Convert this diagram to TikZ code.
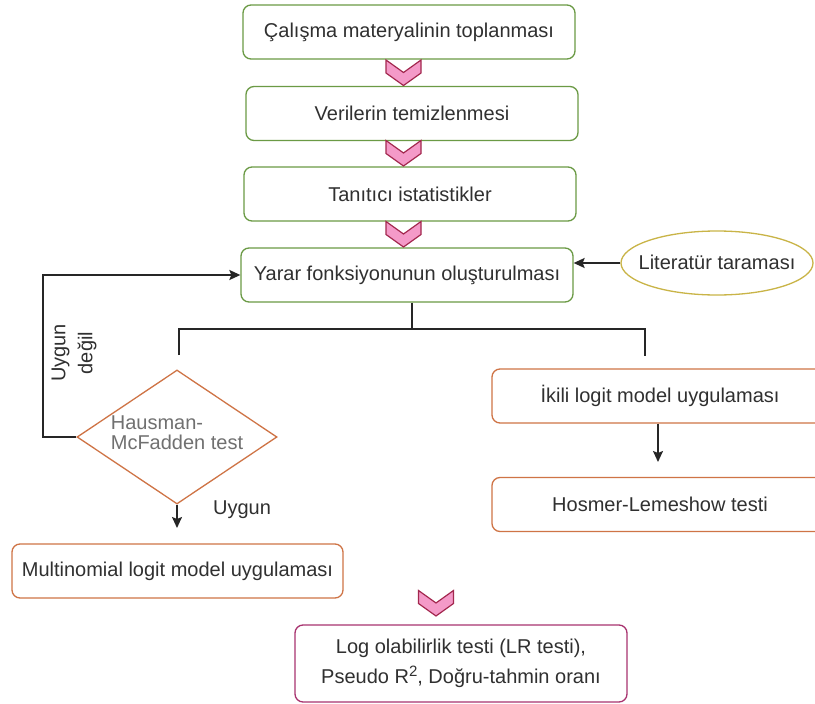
\documentclass[tikz,border=0pt]{standalone}
\usepackage{fontspec}
\setmainfont{Liberation Sans}
\usetikzlibrary{shapes.geometric,arrows.meta}
\definecolor{gstroke}{HTML}{6B9A45}
\definecolor{ostroke}{HTML}{CF7446}
\definecolor{pstroke}{HTML}{A8336F}
\definecolor{ystroke}{HTML}{C9B447}
\definecolor{chevfill}{HTML}{F49AC8}
\definecolor{chevline}{HTML}{A3284F}
\definecolor{txt}{HTML}{303030}
\definecolor{ltxt}{HTML}{707070}
\tikzset{
  base/.style={rectangle, rounded corners=8pt, line width=1.3pt, fill=white,
    text=txt, font=\fontsize{20}{24}\selectfont, inner sep=0pt},
  gbox/.style={base, draw=gstroke, minimum width=332pt, minimum height=54pt},
  obox/.style={base, draw=ostroke, minimum width=336pt, minimum height=54pt},
  pbox/.style={base, draw=pstroke, minimum width=332pt, minimum height=77pt, align=center},
  lit/.style={ellipse, draw=ystroke, line width=1.3pt, minimum width=192pt, minimum height=64pt, inner sep=0pt},
  diam/.style={diamond, draw=ostroke, line width=1.3pt, minimum width=200pt,
    minimum height=134pt, inner sep=0pt},
  conn/.style={draw=black!85, line width=1.6pt},
  arr/.style={conn, -{Stealth[length=11pt,width=10pt,inset=2pt]}},
  lbl/.style={text=txt, font=\fontsize{20}{24}\selectfont, inner sep=0pt},
  chevst/.style={fill=chevfill, draw=chevline, line width=1.2pt, line join=miter},
  chev/.pic={\path[chevst] (-17.5,0) -- (0,12.5) -- (17.5,0) -- (17.5,13) -- (0,25.5) -- (-17.5,13) -- cycle;}
}
\begin{document}
\begin{tikzpicture}[x=1pt,y=-1pt]
\useasboundingbox (0,0) rectangle (815,704);
\clip (0,0) rectangle (815,704);
\fill[white] (0,0) rectangle (815,704);

% main column
\node[gbox] (b1) at (409,32) {Çalışma materyalinin toplanması};
\node[gbox] (b2) at (412,113.5) {Verilerin temizlenmesi};
\node[gbox] (b3) at (410,194) {Tanıtıcı istatistikler};
\node[gbox] (b4) at (407,275) {Yarar fonksiyonunun oluşturulması};

\pic at (403.5,60) {chev};
\pic at (403.5,140.5) {chev};
\pic at (403.5,221.5) {chev};

\node[lit] (lt) at (717,263) {};
\node[lbl] (ltt) at (717,262) {Literatür taraması};
\draw[arr] (lt.west) -- (lt.west -| b4.east);

% split
\coordinate (sp) at (412,329);
\coordinate (spl) at (179,329);
\coordinate (spr) at (645,329);
\coordinate (el) at (179,355);
\coordinate (er) at (645,356);
\draw[conn] (b4.south -| sp) -- (sp);
\draw[conn] (el) -- (spl) -- (spr) -- (er);

% left branch
\node[diam] (hm) at (177,437) {};
\node[text=ltxt, font=\fontsize{20}{20}\selectfont, align=left, inner sep=0pt] (hmt) at (177,433) {Hausman-\\McFadden test};
\coordinate (lp) at (43,275);
\draw[arr] (hm.west) -| (lp) -- (b4.west);
\node[lbl, rotate=90, align=center, font=\fontsize{20}{27}\selectfont] (ud) at (74,353) {Uygun\\değil};

\coordinate (ha) at (177,528);
\draw[arr] (hm.south) -- (ha);
\node[lbl] (uy) at (242,510) {Uygun};

\node[base, draw=ostroke, minimum width=331pt, minimum height=54pt] (ml) at (177.5,571) {Multinomial logit model uygulaması};

% right branch
\node[obox] (ik) at (660,396) {İkili logit model uygulaması};
\node[obox] (hl) at (660,504.5) {Hosmer-Lemeshow testi};
\coordinate (ia) at (658,462);
\draw[arr] (ik.south -| ia) -- (ia);

% final
\pic at (436,590.5) {chev};
\node[pbox, font=\fontsize{20}{30}\selectfont] (fin) at (461,663.5) {Log olabilirlik testi (LR testi),\\Pseudo R{\fontsize{15}{15}\selectfont\raisebox{0.5em}{2}}, Doğru-tahmin oranı};
\end{tikzpicture}
\end{document}
